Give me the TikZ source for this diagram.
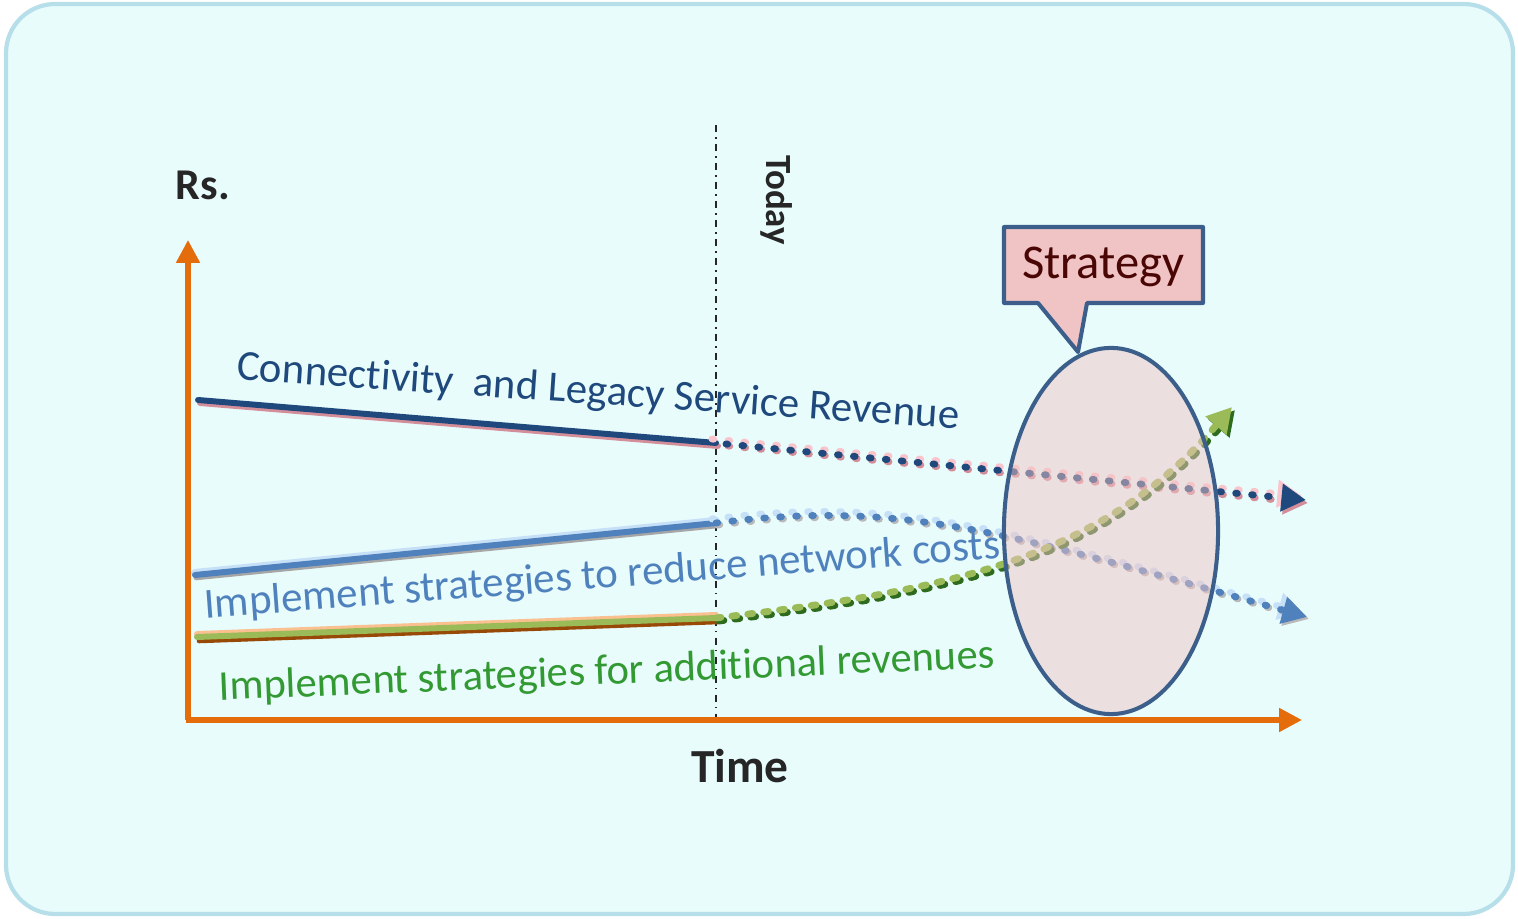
\documentclass[tikz,border=0pt]{standalone}
\usepackage{fontspec}
\setmainfont[Ligatures=NoCommon, RawFeature=-liga]{Carlito}
\usetikzlibrary{arrows.meta,shapes.geometric}
\definecolor{bgfill}{HTML}{E8FCFC}
\definecolor{bgborder}{HTML}{B7DFE9}
\definecolor{axisor}{HTML}{E46C0A}
\definecolor{dkblue}{HTML}{1F497D}
\definecolor{mdblue}{HTML}{4F81BD}
\definecolor{ltblue}{HTML}{C6E0F8}
\definecolor{pinklt}{HTML}{F9C4CC}
\definecolor{pinksh}{HTML}{D48E9A}
\definecolor{grline}{HTML}{9BBB59}
\definecolor{grdark}{HTML}{2E6B1E}
\definecolor{orhi}{HTML}{FAC090}
\definecolor{brsh}{HTML}{984807}
\definecolor{grtext}{HTML}{339933}
\definecolor{callfill}{HTML}{F0C4C4}
\definecolor{callbord}{HTML}{3B5F8A}
\definecolor{strtext}{HTML}{4A0505}
\tikzset{
  axisline/.style={draw=axisor, line width=1.45pt, -{Triangle[length=6.5pt,width=6.5pt]}},
  dotline/.style={line width=1.95pt, line cap=round, dash pattern=on 0.5pt off 4.05pt},
  dashdot/.style={line width=1.95pt, line cap=round, dash pattern=on 1.4pt off 3.15pt},
  solidline/.style={line width=1.7pt, line cap=round},
  lbl/.style={inner sep=0pt, font=\fontsize{12.2}{14}\selectfont},
  bold/.style={inner sep=0pt, font=\bfseries\fontsize{12.5}{14}\selectfont, text=black!85},
  tip/.style={-{Triangle[length=7pt,width=7.5pt]}},
}
\begin{document}
\begin{tikzpicture}[x=0.01cm,y=-0.01cm]
\useasboundingbox (0,0) rectangle (1518,919);
% background panel
\fill[bgfill, draw=bgborder, line width=1.2pt, rounded corners=14pt] (6,4) rectangle (1513,914);

% named coordinates
\coordinate (origin) at (188,720);
\coordinate (ytip) at (188,240);
\coordinate (xtip) at (1302,720);
\coordinate (todayT) at (716,125);
\coordinate (todayB) at (716,725);
\coordinate (a0) at (198,400);
\coordinate (a1) at (716,443);
\coordinate (a2) at (1306,500);
\coordinate (b0) at (195,575);
\coordinate (b1) at (716,523);
\coordinate (b2) at (1307,617);
\coordinate (c0) at (197,637);
\coordinate (c1) at (716,618);
\coordinate (c2) at (1232,407);

% today line
\draw[black!85, line width=0.55pt, dash pattern=on 2pt off 1.5pt on 0.4pt off 1.5pt] (todayT) -- (todayB);

% axes
\draw[axisline] (origin) -- (ytip);
\draw[axisline] ([xshift=-0.7pt]origin) -- (xtip);

% connectivity line
\draw[solidline, pinksh] ([shift={(2,3)}]a0) -- ([shift={(2,3)}]a1);
\draw[solidline, dkblue] (a0) -- (a1);
\draw[dotline, pinklt, tip] ([shift={(-4,-4)}]a1) -- ([shift={(-4,-4)}]a2);
\draw[dotline, pinksh, tip] ([shift={(12,3)}]a1) -- ([shift={(2,3)}]a2);
\draw[dotline, dkblue, tip] ([shift={(10,1)}]a1) -- (a2);

% network costs line
\draw[solidline, ltblue, line width=2.3pt] ([shift={(0,-2)}]b0) -- ([shift={(0,-2)}]b1);
\draw[solidline, gray!70, line width=1.3pt] ([shift={(1,3)}]b0) -- ([shift={(1,3)}]b1);
\draw[solidline, mdblue] (b0) -- (b1);
\draw[dotline, ltblue, tip] ([shift={(-4,-4)}]b1) .. controls (896,496) and (996,526) .. ([shift={(-4,-4)}]b2);
\draw[dotline, gray!55, tip] ([shift={(2,2)}]b1) .. controls (902,502) and (1002,532) .. ([shift={(2,2)}]b2);
\draw[dotline, mdblue, tip] (b1) .. controls (900,500) and (1000,530) .. (b2);

% additional revenues line
\draw[solidline, orhi] ([shift={(0,-3)}]c0) -- ([shift={(0,-3)}]c1);
\draw[solidline, brsh, line width=1.3pt] ([shift={(2,4)}]c0) -- ([shift={(2,4)}]c1);
\draw[solidline, grline] (c0) -- (c1);
\draw[dashdot, grdark, tip] ([shift={(3,3)}]c1) .. controls (953,593) and (1103,563) .. ([shift={(3,3)}]c2);
\draw[dashdot, grline, tip] (c1) .. controls (950,590) and (1100,560) .. (c2);

% strategy ellipse
\node[ellipse, inner sep=0pt, draw=callbord, line width=1.15pt, fill=callfill, fill opacity=0.5, minimum width=2.14cm, minimum height=3.66cm] (ell) at (1111,531) {};

% callout
\draw[callbord, line width=1.15pt, fill=callfill, line join=round] (1004,227) -- (1203,227) -- (1203,303) -- (1087,303) -- (1078,352) -- (1038,303) -- (1004,303) -- cycle;
\node[inner sep=0pt, text=strtext, font=\fontsize{13.8}{16}\selectfont] (strat) at (1103,267) {Strategy};

% labels
\node[lbl, text=dkblue, rotate=-3.9] (lconn) at (598,393) {Connectivity \ and Legacy Service Revenue};
\node[lbl, text=mdblue, rotate=4.3] (lcost) at (602,577) {Implement strategies to reduce network costs};
\node[lbl, text=grtext, rotate=2.4, font=\fontsize{12.1}{14}\selectfont] (lrev) at (607,673) {Implement strategies for additional revenues};

\node[bold] (rs) at (203,185) {Rs.};
\node[bold, font=\bfseries\fontsize{13.5}{15}\selectfont] (time) at (740,766) {Time};
\node[bold, rotate=-90, font=\bfseries\fontsize{10.5}{12}\selectfont] (today) at (777,200) {Today};
\end{tikzpicture}
\end{document}
